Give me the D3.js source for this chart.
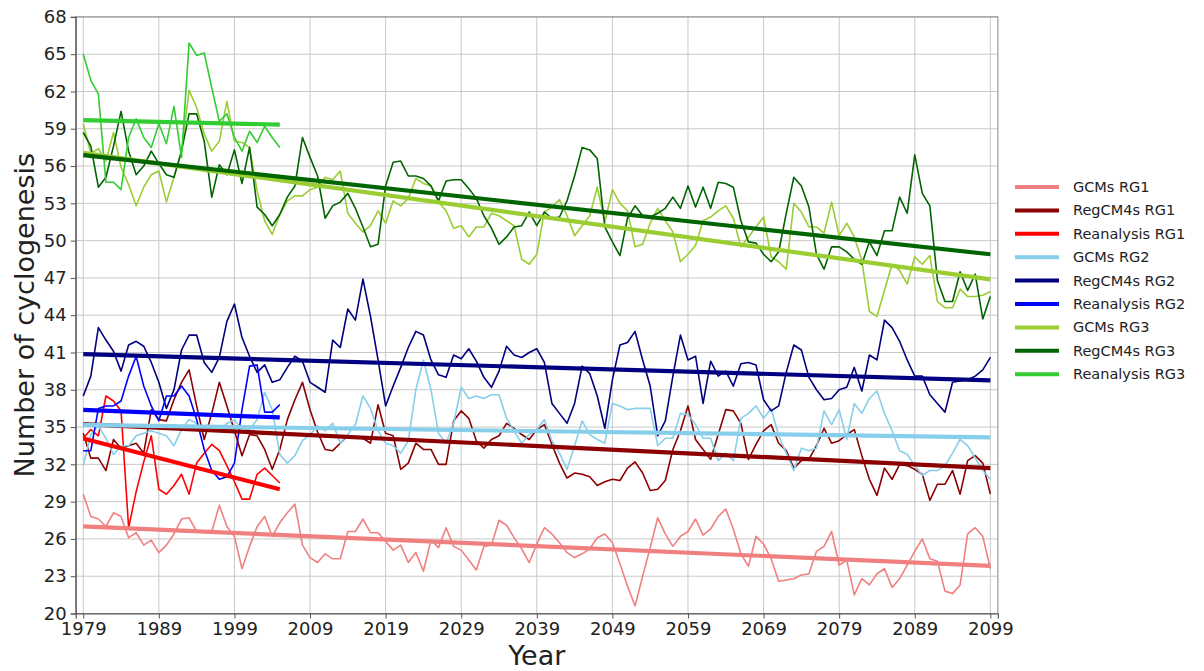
<!DOCTYPE html>
<html>
<head>
<meta charset="utf-8">
<script src="https://cdn.jsdelivr.net/npm/d3@7"></script>
<style>
  body { margin: 0; background: #fff; }
  text { font-family: "DejaVu Sans", sans-serif; }
</style>
</head>
<body>
<svg id="chart" width="1204" height="671"></svg>
<script>
// Annual cyclogenesis counts per region (RG1-RG3), 1979-2099
const years = d3.range(1979, 2100);
const reanalysisYears = d3.range(1979, 2006);
const yTicks = d3.range(20, 69, 3);
const xTicks = d3.range(1979, 2100, 10);

const gcmRG1 = [
  29.6, 27.8, 27.6, 27.0, 28.1, 27.8, 26.1, 26.5, 25.5, 25.9, 24.9, 25.5, 26.4, 27.6, 27.7, 26.6, 26.6, 26.6, 28.7, 27.0, 26.2, 23.6, 25.4, 27.0, 27.8, 26.2, 27.3, 28.1, 28.8, 25.5, 24.5,
  24.1, 24.8, 24.4, 24.4, 26.6, 26.6, 27.6, 26.5, 26.5, 25.8, 25.1, 25.5, 24.1, 24.9, 23.4, 25.9, 25.3, 26.9, 25.4, 25.1, 24.3, 23.5, 25.4, 25.5, 27.5, 27.1, 26.1, 25.2, 24.1,
  25.6, 26.9, 26.4, 25.7, 24.9, 24.5, 24.8, 25.2, 26.1, 26.4, 25.7, 24.0, 22.2, 20.6, 23.0, 25.3, 27.7, 26.4, 25.4, 26.2, 26.6, 27.6, 26.3, 26.8, 27.8, 28.4, 26.8, 24.8, 23.8, 26.2,
  25.6, 24.4, 22.6, 22.7, 22.8, 23.1, 23.2, 25.0, 25.4, 26.6, 23.9, 24.3, 21.5, 22.8, 22.3, 23.2, 23.6, 22.1, 22.8, 23.9, 25.0, 26.0, 24.4, 24.2, 21.8, 21.6, 22.3, 26.4, 26.9, 26.2, 23.6
];
const regcmRG1 = [
  34.5, 32.5, 32.5, 31.5, 34.0, 33.3, 33.5, 33.7, 32.9, 36.4, 35.6, 35.5, 37.2, 38.6, 39.6, 36.7, 34.0, 36.1, 38.6, 36.7, 34.7, 32.7, 34.4, 34.3, 33.2, 31.6, 33.2, 35.6, 37.2, 38.6, 36.4,
  34.6, 33.2, 33.1, 33.7, 34.3, 34.1, 34.1, 33.7, 36.8, 34.5, 34.3, 31.6, 32.1, 33.7, 33.2, 33.2, 32.0, 32.0, 35.5, 36.3, 35.7, 33.9, 33.3, 34.0, 34.3, 35.3, 34.9, 34.4, 34.0,
  34.8, 35.2, 33.6, 32.1, 30.9, 31.3, 31.2, 31.0, 30.3, 30.6, 30.8, 30.7, 31.7, 32.2, 31.3, 29.9, 30.0, 30.7, 33.2, 34.7, 36.7, 34.0, 33.2, 32.4, 34.4, 36.4, 36.3, 35.3, 32.4, 33.6,
  34.7, 35.2, 33.7, 33.1, 31.7, 32.3, 32.4, 33.5, 34.9, 33.7, 33.9, 34.4, 34.8, 32.7, 30.8, 29.5, 31.7, 30.8, 32.0, 31.9, 31.6, 31.2, 29.1, 30.4, 30.4, 31.5, 29.6, 32.3, 32.7, 32.1, 29.6
];
const reanRG1 = [
  34.1, 34.8, 34.3, 37.5, 37.1, 36.3, 26.9, 29.8, 32.2, 34.3, 30.0, 29.6, 30.3, 31.2,
  29.6, 32.1, 32.9, 33.6, 33.1, 31.9, 30.6, 29.2, 29.2, 31.2, 31.7, 31.1, 30.5
];
const gcmRG2 = [
  31.9, 34.4, 35.1, 34.1, 32.8, 33.5, 33.5, 34.3, 34.5, 34.7, 34.5, 34.3, 33.5, 34.8, 35.6, 35.3, 34.7, 35.1, 34.7, 35.3, 35.6, 34.7, 34.8, 35.6, 37.8, 36.4, 32.8, 32.1, 32.7, 33.9, 34.4,
  35.1, 34.7, 35.3, 33.7, 34.4, 35.2, 37.5, 36.5, 34.7, 33.7, 33.5, 32.9, 33.9, 38.0, 40.4, 38.0, 34.5, 33.7, 35.3, 38.2, 37.3, 37.5, 37.3, 37.6, 37.6, 35.7, 34.7, 33.7, 34.4,
  34.8, 35.6, 33.9, 32.9, 31.6, 33.5, 35.5, 34.4, 34.0, 33.7, 36.9, 36.7, 36.4, 36.5, 36.5, 36.5, 33.5, 34.1, 34.1, 36.1, 36.0, 35.2, 34.1, 34.1, 32.3, 32.9, 32.3, 35.7, 36.1, 36.7,
  35.7, 36.5, 34.3, 32.9, 31.5, 33.3, 33.1, 33.3, 36.3, 35.2, 36.4, 34.0, 36.9, 36.1, 37.3, 37.9, 36.1, 34.7, 33.1, 32.8, 31.9, 31.1, 31.5, 31.5, 31.9, 32.9, 34.0, 33.5, 32.5, 31.5, 30.8
];
const regcmRG2 = [
  37.5, 39.1, 43.0, 42.0, 41.1, 39.5, 41.6, 41.9, 41.5, 40.2, 38.6, 36.5, 38.0, 41.2, 42.4, 42.4, 40.2, 39.4, 40.6, 43.5, 44.9, 42.2, 40.7, 39.4, 40.0, 38.6, 38.8, 39.8, 40.7, 40.3, 38.6,
  38.2, 37.8, 42.0, 41.4, 44.5, 43.6, 46.9, 43.9, 40.4, 36.7, 38.3, 39.8, 41.4, 42.7, 42.4, 40.4, 39.2, 39.0, 40.8, 40.5, 41.3, 40.3, 39.0, 38.2, 39.5, 41.5, 40.8, 40.6, 41.0,
  41.3, 40.2, 36.9, 36.1, 35.3, 36.9, 39.9, 39.3, 37.5, 34.9, 38.8, 41.6, 41.8, 42.7, 40.4, 38.3, 34.3, 35.5, 39.1, 42.4, 40.4, 40.7, 36.9, 40.3, 39.1, 39.5, 38.3, 40.1, 40.2, 40.0,
  37.2, 36.3, 36.7, 39.4, 41.6, 41.2, 39.0, 38.0, 37.2, 37.3, 38.0, 38.2, 39.8, 37.9, 40.8, 40.4, 43.6, 43.0, 41.9, 40.4, 39.1, 39.1, 37.6, 36.9, 36.2, 38.6, 38.7, 38.8, 39.1, 39.6, 40.6
];
const reanRG2 = [
  33.1, 33.1, 36.5, 36.7, 36.7, 37.1, 39.1, 40.7, 38.3, 36.7, 35.5, 37.5, 37.5, 38.3,
  37.5, 35.6, 33.2, 31.5, 30.8, 31.0, 32.1, 36.4, 39.9, 40.0, 36.2, 36.2, 36.8
];
const gcmRG3 = [
  59.4, 57.0, 57.4, 56.4, 58.7, 55.9, 54.5, 52.8, 54.3, 55.3, 55.6, 53.1, 55.1, 57.2, 62.1, 60.7, 58.6, 57.2, 58.0, 61.2, 58.0, 57.9, 57.5, 54.0, 51.6, 50.5, 52.1, 53.2, 53.6, 53.6, 54.1,
  54.3, 55.1, 54.9, 55.6, 52.2, 51.4, 50.7, 51.2, 52.4, 51.4, 53.2, 52.8, 53.4, 55.0, 54.6, 54.4, 53.1, 52.4, 51.0, 51.2, 50.3, 51.1, 51.1, 52.2, 52.0, 51.6, 51.2, 48.5, 48.1,
  48.9, 52.3, 52.7, 53.3, 52.0, 50.4, 51.2, 52.0, 54.3, 51.5, 54.1, 53.0, 52.4, 49.5, 49.7, 51.4, 52.6, 51.6, 50.7, 48.3, 48.9, 49.6, 51.6, 51.9, 52.4, 52.8, 51.8, 49.5, 50.3, 51.1,
  51.9, 48.7, 48.3, 47.7, 53.0, 52.3, 51.1, 51.1, 50.6, 53.1, 50.4, 51.4, 50.3, 48.4, 44.3, 43.9, 46.0, 48.1, 47.6, 46.5, 48.7, 48.1, 48.8, 45.1, 44.6, 44.6, 46.1, 45.5, 45.5, 45.6, 45.9
];
const regcmRG3 = [
  58.7, 57.6, 54.3, 55.1, 57.6, 60.4, 57.2, 55.3, 56.0, 57.2, 56.2, 55.3, 55.1, 57.2, 60.2, 60.2, 58.0, 53.5, 56.1, 55.3, 57.3, 54.6, 57.5, 52.7, 52.1, 51.2, 52.1, 53.5, 54.4, 58.3, 56.7,
  55.2, 51.8, 52.8, 53.1, 53.8, 52.6, 51.1, 49.5, 49.7, 54.4, 56.3, 56.4, 55.2, 55.2, 55.0, 54.4, 53.2, 54.8, 54.9, 54.9, 54.2, 53.4, 52.0, 51.0, 49.7, 50.3, 51.1, 51.2, 52.3,
  51.2, 52.3, 51.8, 51.9, 53.2, 55.2, 57.5, 57.3, 56.6, 51.1, 49.9, 48.8, 51.8, 52.8, 52.0, 51.9, 52.2, 52.6, 53.5, 52.6, 54.4, 52.7, 54.3, 52.6, 54.7, 54.6, 54.3, 51.6, 49.9, 49.8,
  48.9, 48.3, 49.1, 52.2, 55.1, 54.4, 52.7, 48.9, 47.7, 49.5, 49.5, 49.1, 48.5, 48.1, 49.9, 48.8, 50.8, 50.8, 53.5, 52.2, 56.9, 53.8, 52.8, 46.8, 45.1, 45.1, 47.5, 46.0, 47.3, 43.7, 45.5
];
const reanRG3 = [
  65.0, 62.9, 61.8, 54.7, 54.7, 54.1, 58.3, 59.8, 58.3, 57.5, 59.4, 57.8, 60.8, 56.7,
  65.9, 64.9, 65.1, 62.3, 59.6, 60.2, 58.3, 57.2, 58.8, 57.9, 59.2, 58.3, 57.5
];

const seriesNames = [
  "GCMs RG1", "RegCM4s RG1", "Reanalysis RG1",
  "GCMs RG2", "RegCM4s RG2", "Reanalysis RG2",
  "GCMs RG3", "RegCM4s RG3", "Reanalysis RG3"
];
const seriesValues = [gcmRG1, regcmRG1, reanRG1, gcmRG2, regcmRG2, reanRG2, gcmRG3, regcmRG3, reanRG3];
const seriesColors = [
  "#f08080", "#8b0000", "#ff0000",
  "#87ceeb", "#000080", "#0000ff",
  "#9acd32", "#006400", "#32cd32"
];

const series = seriesNames.map((name, i) => {
  const vals = seriesValues[i];
  const yrs = vals.length === years.length ? years : reanalysisYears;
  return { name, color: seriesColors[i], points: yrs.map((y, j) => ({ year: y, value: vals[j] })) };
});

// Ordinary least-squares fit of value against year
function linearFit(points) {
  const mx = d3.mean(points, d => d.year);
  const my = d3.mean(points, d => d.value);
  let sxy = 0, sxx = 0;
  points.forEach(d => { sxy += (d.year - mx) * (d.value - my); sxx += (d.year - mx) ** 2; });
  const slope = sxy / sxx;
  const first = points[0].year, last = points[points.length - 1].year;
  return [
    { year: first, value: my + slope * (first - mx) },
    { year: last, value: my + slope * (last - mx) }
  ];
}

const svg = d3.select("#chart");
const plot = { left: 75.7, right: 997.9, top: 16.9, bottom: 613.5 };

const x = d3.scaleLinear().domain([1978, 2100]).range([plot.left, plot.right]);
const y = d3.scaleLinear().domain([20, 68]).range([plot.bottom, plot.top]);

// grid
const grid = svg.append("g");
grid.selectAll("line.gx").data(xTicks).join("line")
  .attr("x1", d => x(d)).attr("x2", d => x(d))
  .attr("y1", plot.top).attr("y2", plot.bottom)
  .attr("stroke", "#c8c8c8").attr("stroke-width", 1);
grid.selectAll("line.gy").data(yTicks).join("line")
  .attr("x1", plot.left).attr("x2", plot.right)
  .attr("y1", d => y(d)).attr("y2", d => y(d))
  .attr("stroke", "#c8c8c8").attr("stroke-width", 1);

const line = d3.line().x(d => x(d.year)).y(d => y(d.value));

const clip = svg.append("clipPath").attr("id", "plotClip")
  .append("rect").attr("x", plot.left).attr("y", plot.top)
  .attr("width", plot.right - plot.left).attr("height", plot.bottom - plot.top);

const marks = svg.append("g").attr("clip-path", "url(#plotClip)");

marks.selectAll("path.data").data(series).join("path")
  .attr("class", "data")
  .attr("d", d => line(d.points))
  .attr("fill", "none")
  .attr("stroke", d => d.color)
  .attr("stroke-width", 1.6)
  .attr("stroke-linejoin", "round");

marks.selectAll("path.trend").data(series).join("path")
  .attr("class", "trend")
  .attr("d", d => line(linearFit(d.points)))
  .attr("fill", "none")
  .attr("stroke", d => d.color)
  .attr("stroke-width", 4.2);

// frame
svg.append("rect")
  .attr("x", plot.left).attr("y", plot.top)
  .attr("width", plot.right - plot.left).attr("height", plot.bottom - plot.top)
  .attr("fill", "none").attr("stroke", "#888").attr("stroke-width", 1);

// axes
const xAxis = svg.append("g")
  .attr("transform", `translate(0,${plot.bottom})`)
  .call(d3.axisBottom(x).tickValues(xTicks).tickFormat(d3.format("d")).tickSize(5).tickPadding(4));
const yAxis = svg.append("g")
  .attr("transform", `translate(${plot.left},0)`)
  .call(d3.axisLeft(y).tickValues(yTicks).tickSize(5).tickPadding(4));

[xAxis, yAxis].forEach(a => {
  a.select(".domain").attr("stroke", "#555").attr("stroke-width", 1.2);
  a.selectAll(".tick line").attr("stroke", "#555");
  a.selectAll(".tick text").attr("fill", "#222").style("font-size", "18px")
    .style("font-family", '"DejaVu Sans", sans-serif');
});

svg.append("text")
  .attr("x", (plot.left + plot.right) / 2).attr("y", 665)
  .attr("text-anchor", "middle").attr("fill", "#222")
  .style("font-size", "27px").text("Year");

svg.append("text")
  .attr("transform", `translate(34,${(plot.top + plot.bottom) / 2}) rotate(-90)`)
  .attr("text-anchor", "middle").attr("fill", "#222")
  .style("font-size", "27px").text("Number of cyclogenesis");

// legend
const legend = svg.append("g").attr("transform", "translate(1015,187)");
const entry = legend.selectAll("g").data(series).join("g")
  .attr("transform", (d, i) => `translate(0,${i * 23.4})`);
entry.append("line")
  .attr("x1", 0).attr("x2", 44).attr("y1", 0).attr("y2", 0)
  .attr("stroke", d => d.color).attr("stroke-width", 4);
entry.append("text")
  .attr("x", 58).attr("y", 0).attr("dy", "0.35em")
  .attr("fill", "#222").style("font-size", "14.5px")
  .text(d => d.name);
</script>
</body>
</html>
